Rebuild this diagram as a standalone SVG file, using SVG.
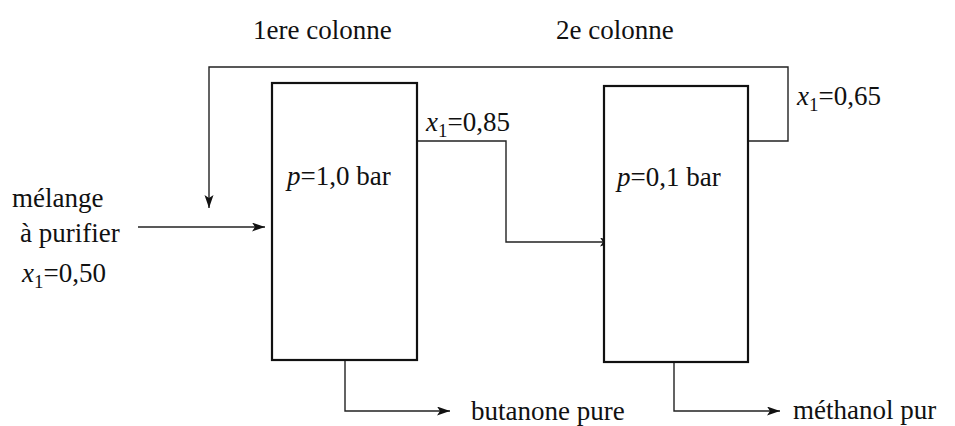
<svg xmlns="http://www.w3.org/2000/svg" width="955" height="426" viewBox="0 0 955 426">
<style>
text{font-family:"Liberation Serif",Tinos,"Times New Roman",Times,"DejaVu Serif","Nimbus Roman",FreeSerif,serif;font-size:27px;fill:#111}
.i{font-style:italic}
.s{font-size:19px}
.box{fill:#fff;stroke:#111;stroke-width:2.2}
.c{fill:none;stroke:#222;stroke-width:1.4}
</style>
<defs>
<marker id="a" markerUnits="userSpaceOnUse" markerWidth="15" markerHeight="10" refX="13" refY="4.5" orient="auto">
<path d="M0,0 L13,4.5 L0,9 L3,4.5 z" fill="#111"/>
</marker>
</defs>
<rect width="955" height="426" fill="#fff"/>
<g id="connectors">
<path class="c" d="M748,141 H788 V67 H209 V208" marker-end="url(#a)"/>
<path class="c" d="M138,227 H265" marker-end="url(#a)"/>
<path class="c" d="M417,141 H506 V242 H613" marker-end="url(#a)"/>
<path class="c" d="M345,357 V411 H450" marker-end="url(#a)"/>
<path class="c" d="M674,359 V411 H780" marker-end="url(#a)"/>
</g>
<g id="col1">
<rect class="box" x="272" y="83" width="145" height="277"/>
<text x="287" y="185"><tspan class="i">p</tspan>=1,0 bar</text>
</g>
<g id="col2">
<rect class="box" x="604" y="86" width="144" height="276"/>
<text x="617" y="186"><tspan class="i">p</tspan>=0,1 bar</text>
</g>
<g id="labels">
<text x="253" y="39">1ere colonne</text>
<text x="556" y="39">2e colonne</text>
<text x="12" y="207">mélange</text>
<text x="20" y="242">à purifier</text>
<text x="22" y="282"><tspan class="i">x</tspan><tspan class="s" dy="6">1</tspan><tspan dy="-6">=0,50</tspan></text>
<text x="426" y="131"><tspan class="i">x</tspan><tspan class="s" dy="6">1</tspan><tspan dy="-6">=0,85</tspan></text>
<text x="797" y="105"><tspan class="i">x</tspan><tspan class="s" dy="6">1</tspan><tspan dy="-6">=0,65</tspan></text>
<text x="471" y="420">butanone pure</text>
<text x="793" y="419">méthanol pur</text>
</g>
</svg>
